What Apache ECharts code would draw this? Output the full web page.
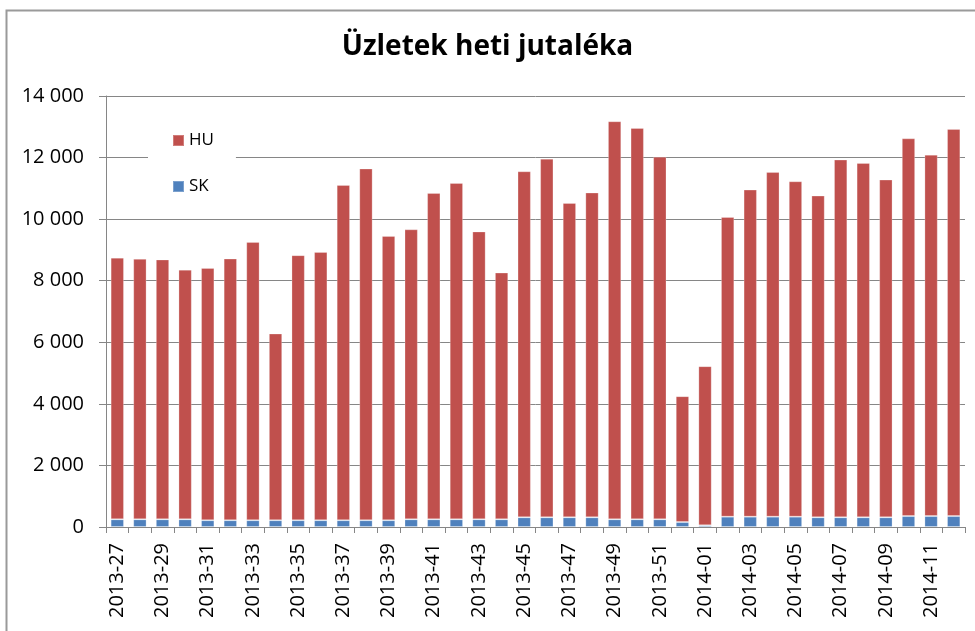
<!DOCTYPE html>
<html>
<head>
<meta charset="utf-8">
<script src="https://cdn.jsdelivr.net/npm/echarts@6/dist/echarts.min.js"></script>
<style>html,body{margin:0;padding:0;background:#fff}#c{width:975px;height:631px}</style>
</head>
<body>
<div id="c"></div>
<script>
const categories = ['2013-27','2013-28','2013-29','2013-30','2013-31','2013-32','2013-33','2013-34','2013-35','2013-36','2013-37','2013-38','2013-39','2013-40','2013-41','2013-42','2013-43','2013-44','2013-45','2013-46','2013-47','2013-48','2013-49','2013-50','2013-51','2013-52','2014-01','2014-02','2014-03','2014-04','2014-05','2014-06','2014-07','2014-08','2014-09','2014-10','2014-11','2014-12'];
const skValues = [250,250,250,250,220,220,220,220,220,220,220,220,220,250,250,250,250,250,315,315,315,315,250,250,250,160,55,335,335,335,335,315,315,315,315,355,355,355];
const huValues = [8500,8460,8440,8110,8195,8500,9040,6065,8610,8715,10890,11425,9235,9420,10600,10925,9350,8015,11240,11650,10210,10550,12930,12710,11780,4090,5170,9735,10625,11195,10895,10450,11620,11510,10970,12270,11740,12575];
const titleText = 'Üzletek heti jutaléka';

const font = 'Open Sans';
const chart = echarts.init(document.getElementById('c'));
chart.setOption({
  animation: false,
  backgroundColor: '#fff',
  graphic: [{
    type: 'rect', silent: true, z: -1,
    shape: { x: 6.5, y: 10.5, width: 2000, height: 2000 },
    style: { fill: 'none', stroke: '#9a9a9a', lineWidth: 2 }
  }],
  title: {
    text: titleText, left: 'center', top: 28,
    textStyle: { fontFamily: font, fontWeight: 'bold', fontSize: 28, color: '#000' }
  },
  legend: {
    data: ['HU', 'SK'],
    orient: 'vertical',
    left: 148, top: 124,
    padding: [8, 22, 8, 24],
    backgroundColor: '#fff',
    itemWidth: 11, itemHeight: 11, itemGap: 29,
    icon: 'rect',
    textStyle: { fontFamily: font, fontSize: 17, color: '#000', padding: [0, 0, 0, 0] }
  },
  grid: { left: 106, right: 10, top: 96, bottom: 104, containLabel: false },
  xAxis: {
    type: 'category', data: categories,
    axisLine: { lineStyle: { color: '#868686', width: 1 } },
    axisTick: { show: true, interval: 0, length: 6, lineStyle: { color: '#868686' } },
    axisLabel: { interval: 1, rotate: 90, margin: 16, fontFamily: font, fontSize: 20, color: '#000' },
    splitLine: { show: false }
  },
  yAxis: {
    type: 'value', min: 0, max: 14000, interval: 2000,
    axisLine: { show: true, lineStyle: { color: '#868686', width: 1 } },
    axisTick: { show: true, length: 7, lineStyle: { color: '#868686' } },
    axisLabel: {
      margin: 22, fontFamily: font, fontSize: 20, color: '#000',
      formatter: v => String(v).replace(/\B(?=(\d{3})+(?!\d))/g, ' ')
    },
    splitLine: { lineStyle: { color: '#868686', width: 1 } }
  },
  series: [
    { name: 'SK', type: 'bar', stack: 'tot', data: skValues, barWidth: '59%',
      itemStyle: { color: '#4F81BD', borderColor: 'rgba(255,255,255,0.25)', borderWidth: 1 } },
    { name: 'HU', type: 'bar', stack: 'tot', data: huValues, barWidth: '59%',
      itemStyle: { color: '#C0504D', borderColor: 'rgba(255,255,255,0.25)', borderWidth: 1 } }
  ]
});
</script>
</body>
</html>
